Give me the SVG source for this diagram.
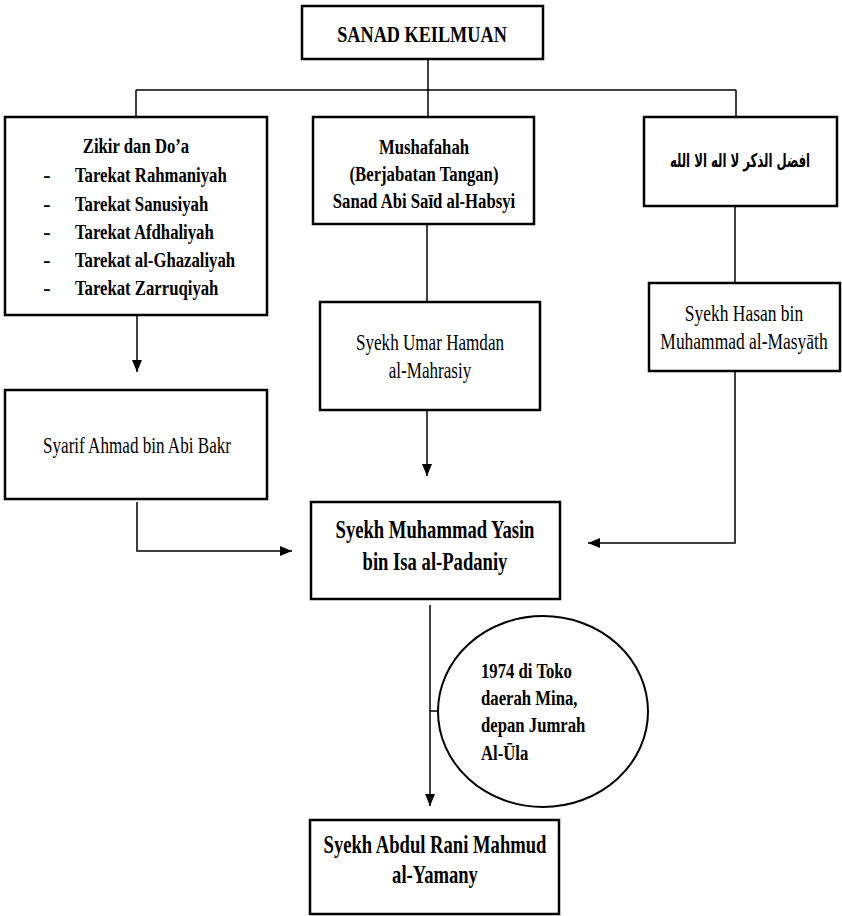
<svg xmlns="http://www.w3.org/2000/svg" width="842" height="916" viewBox="0 0 842 916">
<style>
.box{fill:#fff;stroke:#000;stroke-width:2.5}
.ell{fill:#fff;stroke:#000;stroke-width:2}
.ln{fill:none;stroke:#000;stroke-width:1.5}
text{font-family:"Liberation Serif","Times New Roman",serif;fill:#000}
.b{font-weight:bold}
.c{text-anchor:middle}
.ar{font-family:"DejaVu Sans",sans-serif;font-weight:bold;text-anchor:middle}
</style>
<defs>
<marker id="ah" markerUnits="userSpaceOnUse" markerWidth="12" markerHeight="10" refX="12" refY="5" orient="auto">
<path d="M0,0 L12,5 L0,10 z" fill="#000"/>
</marker>
</defs>
<g id="connectors">
<path class="ln" d="M428,59 V90"/>
<path class="ln" d="M136,90 H736"/>
<path class="ln" d="M136,90 V117"/>
<path class="ln" d="M428,90 V117"/>
<path class="ln" d="M736,90 V117"/>
<path class="ln" d="M427,224 V302"/>
<path class="ln" d="M735,206 V283"/>
<path class="ln" d="M137,316 V372" marker-end="url(#ah)"/>
<path class="ln" d="M427,410 V476" marker-end="url(#ah)"/>
<path class="ln" d="M137,502 V551 H292" marker-end="url(#ah)"/>
<path class="ln" d="M735,371 V543 H588" marker-end="url(#ah)"/>
<path class="ln" d="M430,605 V806" marker-end="url(#ah)"/>
<path class="ln" d="M430,711 H438"/>
</g>
<g id="sanad">
<rect class="box" x="302" y="6" width="241" height="53"/>
<g transform="translate(422,0) scale(0.76,1)"><text class="b c" x="0" y="42" font-size="24">SANAD KEILMUAN</text></g>
</g>
<g id="zikir">
<rect class="box" x="5" y="117" width="262" height="198"/>
<g transform="translate(136,0) scale(0.76,1)"><text class="b c" x="0" y="153" font-size="22">Zikir dan Do’a</text></g>
<g font-size="22">
<text class="b c" x="47" y="182">-</text>
<text class="b c" x="47" y="211">-</text>
<text class="b c" x="47" y="239">-</text>
<text class="b c" x="47" y="267">-</text>
<text class="b c" x="47" y="295">-</text>
</g>
<g transform="translate(75,0) scale(0.76,1)" font-size="22">
<text class="b" x="0" y="182">Tarekat Rahmaniyah</text>
<text class="b" x="0" y="211">Tarekat Sanusiyah</text>
<text class="b" x="0" y="239">Tarekat Afdhaliyah</text>
<text class="b" x="0" y="267">Tarekat al-Ghazaliyah</text>
<text class="b" x="0" y="295">Tarekat Zarruqiyah</text>
</g>
</g>
<g id="mushafahah">
<rect class="box" x="313" y="117" width="221" height="107"/>
<g transform="translate(424,0) scale(0.76,1)" font-size="22">
<text class="b c" x="0" y="154">Mushafahah</text>
<text class="b c" x="0" y="181">(Berjabatan Tangan)</text>
<text class="b c" x="0" y="208">Sanad Abi Saīd al-Habsyi</text>
</g>
</g>
<g id="afdhal">
<rect class="box" x="644" y="117" width="193" height="89"/>
<g transform="translate(740,0) scale(0.615,1)"><text class="ar" x="0" y="167" font-size="19" direction="rtl">افضل الذكر لا اله الا الله</text></g>
</g>
<g id="umar">
<rect class="box" x="320" y="302" width="220" height="108"/>
<g transform="translate(430,0) scale(0.76,1)" font-size="22.5">
<text class="c" x="0" y="350">Syekh Umar Hamdan</text>
<text class="c" x="0" y="378">al-Mahrasiy</text>
</g>
</g>
<g id="hasan">
<rect class="box" x="649" y="283" width="191" height="88"/>
<g transform="translate(744,0) scale(0.76,1)" font-size="23">
<text class="c" x="0" y="321">Syekh Hasan bin</text>
<text class="c" x="0" y="349">Muhammad al-Masyāth</text>
</g>
</g>
<g id="syarif">
<rect class="box" x="5" y="390" width="262" height="109"/>
<g transform="translate(137,0) scale(0.76,1)" font-size="22.5">
<text class="c" x="0" y="453">Syarif Ahmad bin Abi Bakr</text>
</g>
</g>
<g id="yasin">
<rect class="box" x="311" y="502" width="249" height="97"/>
<g transform="translate(435,0) scale(0.76,1)" font-size="24.5">
<text class="b c" x="0" y="538">Syekh Muhammad Yasin</text>
<text class="b c" x="0" y="570">bin Isa al-Padaniy</text>
</g>
</g>
<g id="tempat">
<ellipse class="ell" cx="543" cy="711.5" rx="105" ry="95.5"/>
<g transform="translate(481,0) scale(0.76,1)" font-size="22">
<text class="b" x="0" y="678">1974 di Toko</text>
<text class="b" x="0" y="705">daerah Mina,</text>
<text class="b" x="0" y="732">depan Jumrah</text>
<text class="b" x="0" y="760">Al-Ūla</text>
</g>
</g>
<g id="abdul">
<rect class="box" x="310" y="820" width="249" height="94"/>
<g transform="translate(435,0) scale(0.76,1)" font-size="24.5">
<text class="b c" x="0" y="853">Syekh Abdul Rani Mahmud</text>
<text class="b c" x="0" y="883">al-Yamany</text>
</g>
</g>
</svg>
